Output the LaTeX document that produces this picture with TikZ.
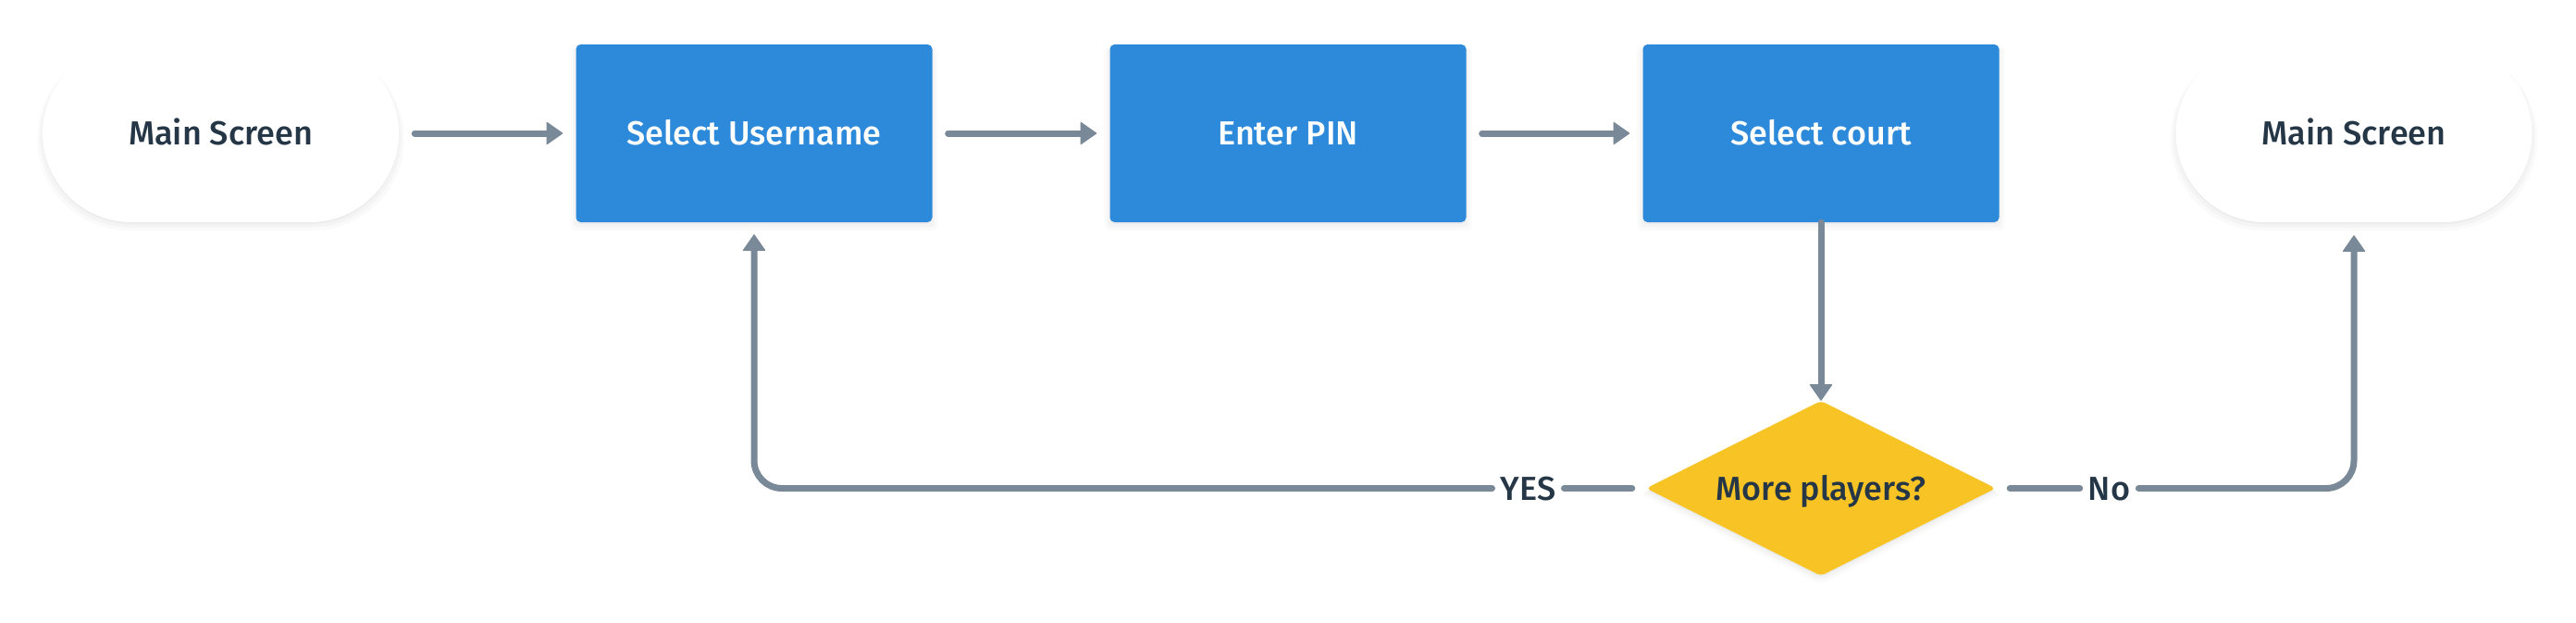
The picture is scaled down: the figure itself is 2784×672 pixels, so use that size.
\documentclass[tikz,border=0pt]{standalone}
\usepackage{fontspec}
\setmainfont{Fira Sans Medium}
\usetikzlibrary{arrows.meta,shapes.geometric,shadows}
\definecolor{boxblue}{HTML}{2D89D9}
\definecolor{decyellow}{HTML}{F7C325}
\definecolor{linegray}{HTML}{7A8998}
\definecolor{textdark}{HTML}{253746}
\tikzset{
  softshadow/.style={
    general shadow={shadow scale=1.03, shadow yshift=-6pt, fill=black, opacity=0.018},
    general shadow={shadow scale=1.015, shadow yshift=-4pt, fill=black, opacity=0.025},
    general shadow={shadow yshift=-2pt, fill=black, opacity=0.03}},
  base/.style={text=textdark, text height=25pt, text depth=0pt, inner sep=0pt, align=center},
  pill/.style={base, rectangle, rounded corners=96pt, fill=white, minimum width=385pt, minimum height=192pt, softshadow},
  stepbox/.style={base, rectangle, rounded corners=5pt, fill=boxblue, text=white, minimum width=385pt, minimum height=192pt, softshadow},
  decision/.style={base, diamond, aspect=2, rounded corners=5pt, fill=decyellow, minimum width=378pt, minimum height=189pt, softshadow},
  lbl/.style={base, inner xsep=9pt},
  link/.style={draw=linegray, line width=7pt, line cap=round, line join=round},
  arr/.style={link, -{Triangle[width=25pt,length=18pt,line width=1pt,round]}}
}
\begin{document}
\begin{tikzpicture}[x=1pt, y=-1pt, font=\fontsize{36}{43}\selectfont]
\useasboundingbox[fill=white] (0,0) rectangle (2784,672);
\node[pill] (ms1) at (238.5,144) {Main Screen};
\node[stepbox] (su) at (815,144) {Select Username};
\node[stepbox] (pin) at (1392,144) {Enter PIN};
\node[stepbox] (sc) at (1968,144) {Select court};
\node[pill] (ms2) at (2544,144) {Main Screen};
\node[decision] (dec) at (1968,527.5) {More players?};
\node[lbl] (yes) at (1651.5,527.5) {YES};
\node[lbl] (no) at (2279.5,527.5) {No};
\draw[arr, shorten <=17pt, shorten >=14pt] (ms1.east) -- (su.west);
\draw[arr, shorten <=17pt, shorten >=14pt] (su.east) -- (pin.west);
\draw[arr, shorten <=17pt, shorten >=14pt] (pin.east) -- (sc.west);
\draw[arr] (sc.south) -- (dec.north);
\draw[link, shorten <=15pt] (dec.west) -- (yes.east);
\draw[arr, rounded corners=30pt, shorten >=13pt] (yes.west) -- (yes.west -| su.south) -- (su.south);
\draw[link, shorten <=15pt] (dec.east) -- (no.west);
\draw[arr, rounded corners=30pt, shorten >=14pt] (no.east) -- (no.east -| ms2.south) -- (ms2.south);
\end{tikzpicture}
\end{document}
